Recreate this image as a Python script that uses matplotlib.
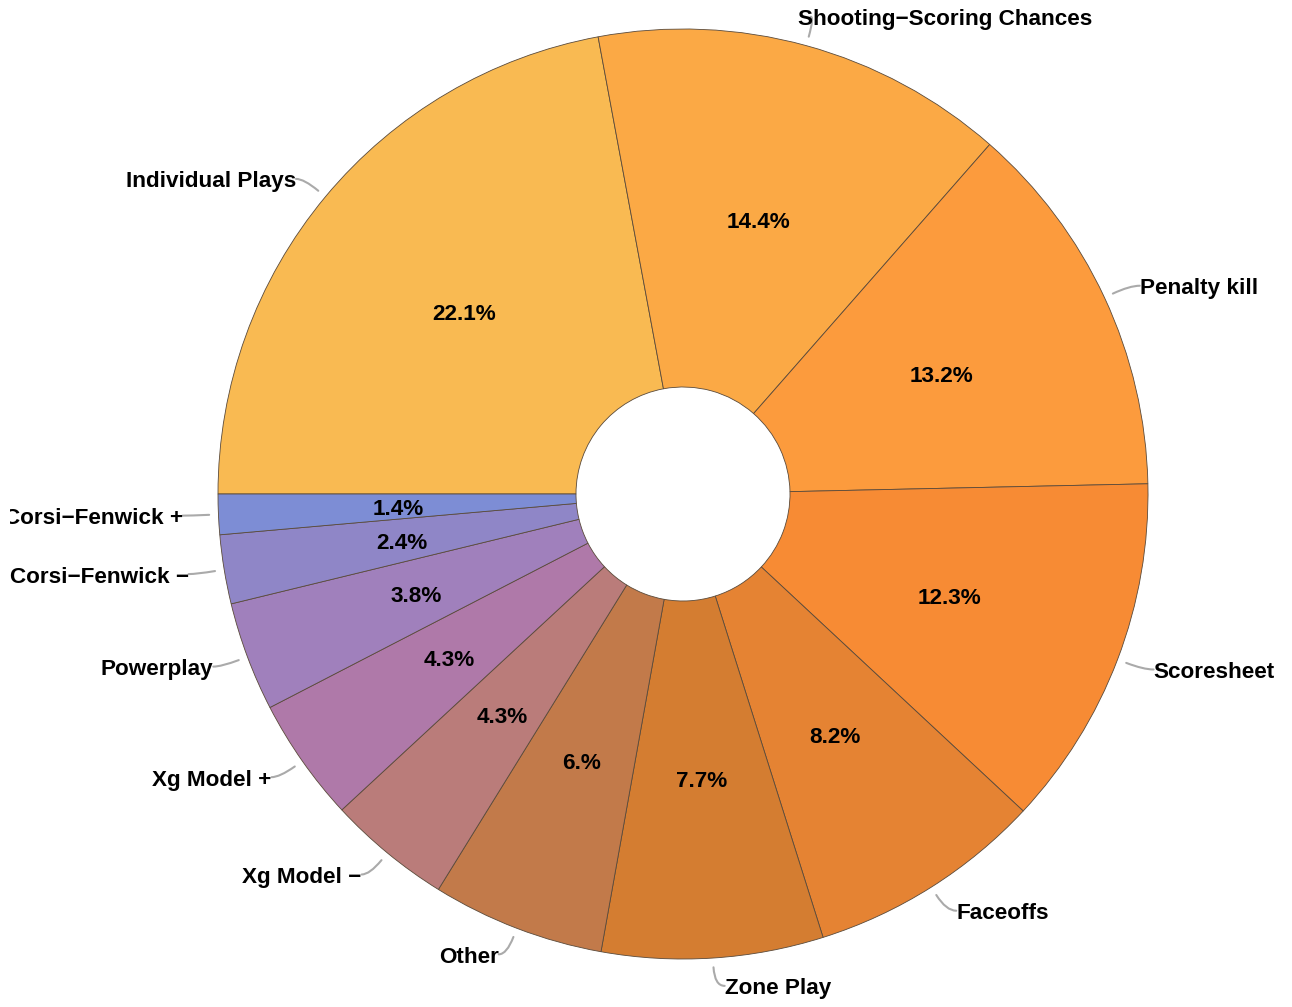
import numpy as np
import matplotlib
matplotlib.use("Agg")
import matplotlib.pyplot as plt

plt.rcParams['font.family'] = ['Liberation Sans', 'DejaVu Sans']

categories = ["Individual Plays", "Shooting\u2212Scoring Chances", "Penalty kill", "Scoresheet",
              "Faceoffs", "Zone Play", "Other", "Xg Model \u2212", "Xg Model +", "Powerplay",
              "Corsi\u2212Fenwick \u2212", "Corsi\u2212Fenwick +"]
shares = [22.1, 14.4, 13.2, 12.3, 8.2, 7.7, 6.0, 4.3, 4.3, 3.8, 2.4, 1.4]
colors = ["#F9BA52", "#FBA945", "#FC9B3D", "#F78B34", "#E58333", "#D47D31",
          "#C27A4A", "#BA7C7A", "#AF79A9", "#A080BC", "#8F86C7", "#7D8DD5"]

W, H = 1292, 1007
cx, cy = 683, H - 494
R = 465
hole = 107
fs = 16.2

fig = plt.figure(figsize=(W / 100, H / 100), dpi=100)
ax = fig.add_axes([10 / W, 0, 1 - 10 / W, 1])

wedges, _ = ax.pie(shares, colors=colors, startangle=180, counterclock=False,
                   radius=R, center=(cx, cy),
                   wedgeprops=dict(width=R - hole, edgecolor="#5a4a3a", linewidth=0.6))


def pct_text(v):
    s = f"{v:.1f}"
    if s.endswith(".0"):
        s = s[:-1]
    return s + "%"


for w, name, v in zip(wedges, categories, shares):
    mid = np.deg2rad((w.theta1 + w.theta2) / 2)
    c, s = np.cos(mid), np.sin(mid)
    # percentage label inside the ring
    ax.text(cx + 285 * c, cy + 285 * s - 3, pct_text(v), ha="center", va="center",
            fontsize=fs, fontweight="bold")
    # leader line + outer label
    start = (cx + 1.02 * R * c, cy + 1.02 * R * s)
    elbow = (cx + 1.06 * R * c, cy + 1.06 * R * s)
    if s > 0.9:
        end = (elbow[0] - 3, elbow[1] + 2)
        tx = elbow[0] - 16
        ha = "left"
    elif c >= 0:
        end = (elbow[0] + 10, elbow[1])
        tx = end[0]
        ha = "left"
    else:
        end = (elbow[0] - 8, elbow[1])
        tx = end[0]
        ha = "right"
    ax.annotate("", xy=start, xytext=end, xycoords="data", textcoords="data",
                arrowprops=dict(arrowstyle="-", color="#aaaaaa", lw=1.5,
                                shrinkA=0, shrinkB=0,
                                connectionstyle=f"angle3,angleA=0,angleB={np.rad2deg(mid):.1f}"))
    ax.text(tx, end[1] - 3, name, ha=ha, va="center", fontsize=fs,
            fontweight="bold", clip_on=True)

ax.set_xlim(10, W)
ax.set_ylim(0, H)
ax.set_aspect("equal")
ax.axis("off")

fig.savefig("out.png", dpi=100, facecolor="white")
